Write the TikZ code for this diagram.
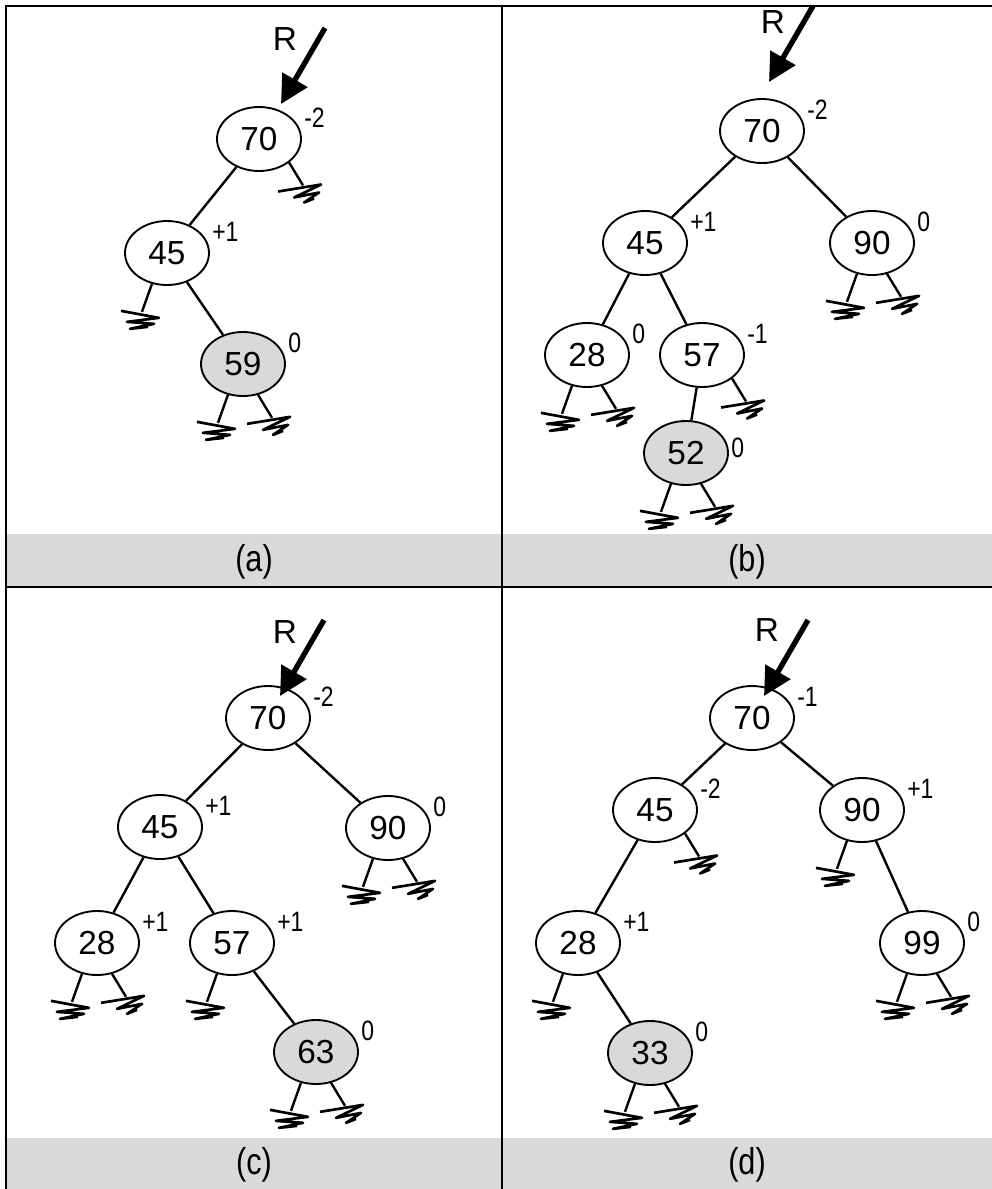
\documentclass[tikz,border=0pt]{standalone}
\usepackage{fontspec}
\setmainfont{Liberation Sans}
\newfontfamily\narrowsans[FakeStretch=0.82]{Liberation Sans}
\usetikzlibrary{shapes.geometric,arrows.meta}
\definecolor{panelgrey}{RGB}{217,217,217}
\begin{document}
\begin{tikzpicture}[x=0.75pt,y=-0.75pt,
  tn/.style={ellipse,draw,line width=1.4pt,minimum width=63pt,minimum height=48pt,inner sep=0pt,fill=white,font=\fontsize{25}{28}\selectfont},
  hot/.style={tn,fill=panelgrey},
  bal/.style={anchor=west,inner sep=0pt,font=\narrowsans\fontsize{21}{24}\selectfont},
  link/.style={line width=1.8pt},
  rarrow/.style={line width=4pt,-{Triangle[length=21pt,width=21pt]}},
  rlab/.style={inner sep=0pt,font=\fontsize{25}{28}\selectfont},
  plabel/.style={inner sep=0pt,font=\narrowsans\fontsize{28}{32}\selectfont},
  boxline/.style={line width=2.2pt},
  nilL/.pic={\draw[line width=1.8pt] (0,0) -- (-10,28);
             \draw[line width=2pt,line join=round] (-31,27) -- (7,34) -- (-25,38) -- (2,40) -- (-22,45) -- (-4,43);},
  nilR/.pic={\draw[line width=1.8pt] (0,0) -- (14,23);
             \draw[line width=2pt,line join=round] (-11,29) -- (32,22) -- (5,35) -- (30,30) -- (15,40) -- (25,36);}
]
\useasboundingbox (0,0) rectangle (992,1189);
\fill[white] (0,0) rectangle (992,1189);
% frame and caption bands
\fill[panelgrey] (6,534) rectangle (992,587);
\fill[panelgrey] (6,1138) rectangle (992,1189);
\draw[boxline] (6,1189) -- (6,6) -- (992,6);
\draw[boxline] (502,6) -- (502,1189);
\draw[boxline] (6,587) -- (992,587);
\node[plabel] (la) at (254,562) {(a)};
\node[plabel] (lb) at (747,562) {(b)};
\node[plabel] (lc) at (254,1165) {(c)};
\node[plabel] (ld) at (747,1165) {(d)};

% ---------- (a)
\node[tn] (a70) at (259,139) {70};
\node[tn] (a45) at (167,253) {45};
\node[hot] (a59) at (243,364) {59};
\draw[link] (a70) -- (a45);
\draw[link] (a45) -- (a59);
\node[bal] (ba70) at ([shift={(45,-21)}]a70.center) {-2};
\node[bal] (ba45) at ([shift={(45,-21)}]a45.center) {+1};
\node[bal] (ba59) at ([shift={(45,-21)}]a59.center) {0};
\pic at (a70.322) {nilR};
\pic at (a45.244) {nilL};
\pic at (a59.244) {nilL};
\pic at (a59.296) {nilR};
\coordinate (ras) at (325,28);
\coordinate (rat) at (281,104);
\draw[rarrow] (ras) -- (rat);
\node[rlab] (ra) at (285,39) {R};

% ---------- (b)
\node[tn] (b70) at (762,131) {70};
\node[tn] (b45) at (645,243) {45};
\node[tn] (b90) at (872,243) {90};
\node[tn] (b28) at (587,355) {28};
\node[tn] (b57) at (702,355) {57};
\node[hot] (b52) at (686,453) {52};
\draw[link] (b70) -- (b45);
\draw[link] (b70) -- (b90);
\draw[link] (b45) -- (b28);
\draw[link] (b45) -- (b57);
\draw[link] (b57) -- (b52);
\node[bal] (bb70) at ([shift={(45,-21)}]b70.center) {-2};
\node[bal] (bb45) at ([shift={(45,-21)}]b45.center) {+1};
\node[bal] (bb90) at ([shift={(45,-21)}]b90.center) {0};
\node[bal] (bb28) at ([shift={(45,-21)}]b28.center) {0};
\node[bal] (bb57) at ([shift={(45,-21)}]b57.center) {-1};
\node[bal] (bb52) at ([shift={(45,-5)}]b52.center) {0};
\pic at (b90.244) {nilL};
\pic at (b90.296) {nilR};
\pic at (b28.244) {nilL};
\pic at (b28.296) {nilR};
\pic at (b57.322) {nilR};
\pic at (b52.244) {nilL};
\pic at (b52.296) {nilR};
\coordinate (rbs) at (813,6);
\coordinate (rbt) at (769,82);
\draw[rarrow] (rbs) -- (rbt);
\node[rlab] (rb) at (773,22) {R};

% ---------- (c)
\node[tn] (c70) at (268,718) {70};
\node[tn] (c45) at (160,827) {45};
\node[tn] (c90) at (388,828) {90};
\node[tn] (c28) at (97,943) {28};
\node[tn] (c57) at (232,943) {57};
\node[hot] (c63) at (316,1052) {63};
\draw[link] (c70) -- (c45);
\draw[link] (c70) -- (c90);
\draw[link] (c45) -- (c28);
\draw[link] (c45) -- (c57);
\draw[link] (c57) -- (c63);
\node[bal] (bc70) at ([shift={(45,-21)}]c70.center) {-2};
\node[bal] (bc45) at ([shift={(45,-21)}]c45.center) {+1};
\node[bal] (bc90) at ([shift={(45,-21)}]c90.center) {0};
\node[bal] (bc28) at ([shift={(45,-21)}]c28.center) {+1};
\node[bal] (bc57) at ([shift={(45,-21)}]c57.center) {+1};
\node[bal] (bc63) at ([shift={(45,-21)}]c63.center) {0};
\pic at (c90.244) {nilL};
\pic at (c90.296) {nilR};
\pic at (c28.244) {nilL};
\pic at (c28.296) {nilR};
\pic at (c57.244) {nilL};
\pic at (c63.244) {nilL};
\pic at (c63.296) {nilR};
\coordinate (rcs) at (324,620);
\coordinate (rct) at (280,696);
\draw[rarrow] (rcs) -- (rct);
\node[rlab] (rc) at (285,632) {R};

% ---------- (d)
\node[tn] (d70) at (752,718) {70};
\node[tn] (d45) at (655,810) {45};
\node[tn] (d90) at (862,810) {90};
\node[tn] (d28) at (578,943) {28};
\node[tn] (d99) at (922,943) {99};
\node[hot] (d33) at (650,1053) {33};
\draw[link] (d70) -- (d45);
\draw[link] (d70) -- (d90);
\draw[link] (d45) -- (d28);
\draw[link] (d28) -- (d33);
\draw[link] (d90) -- (d99);
\node[bal] (bd70) at ([shift={(45,-21)}]d70.center) {-1};
\node[bal] (bd45) at ([shift={(45,-21)}]d45.center) {-2};
\node[bal] (bd90) at ([shift={(45,-21)}]d90.center) {+1};
\node[bal] (bd28) at ([shift={(45,-21)}]d28.center) {+1};
\node[bal] (bd99) at ([shift={(45,-21)}]d99.center) {0};
\node[bal] (bd33) at ([shift={(45,-21)}]d33.center) {0};
\pic at (d45.322) {nilR};
\pic at (d90.244) {nilL};
\pic at (d28.244) {nilL};
\pic at (d99.244) {nilL};
\pic at (d99.296) {nilR};
\pic at (d33.244) {nilL};
\pic at (d33.296) {nilR};
\coordinate (rds) at (808,620);
\coordinate (rdt) at (764,696);
\draw[rarrow] (rds) -- (rdt);
\node[rlab] (rd) at (767,630) {R};
\end{tikzpicture}
\end{document}
